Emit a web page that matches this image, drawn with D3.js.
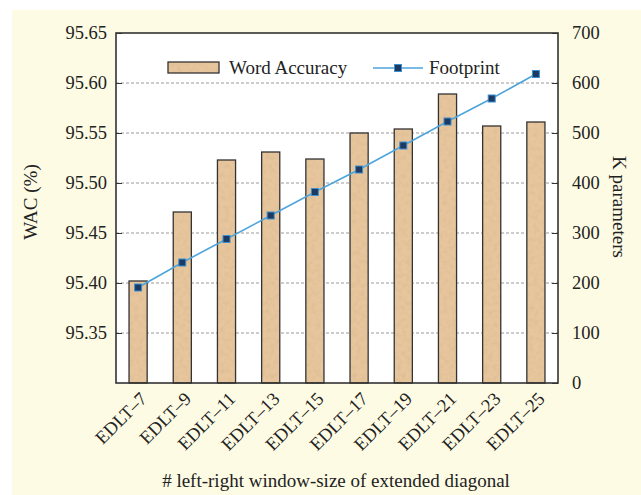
<!DOCTYPE html>
<html>
<head>
<meta charset="utf-8">
<title>EDLT window size</title>
<script src="https://d3js.org/d3.v7.min.js"></script>
<style>
  body { margin: 0; background: #fff; }
  text { font-family: "Liberation Serif", "Times New Roman", serif; fill: #222; }
</style>
</head>
<body>
<div id="chart"></div>
<script>
// data
var categories = ["EDLT\u20137", "EDLT\u20139", "EDLT\u201311", "EDLT\u201313", "EDLT\u201315",
                  "EDLT\u201317", "EDLT\u201319", "EDLT\u201321", "EDLT\u201323", "EDLT\u201325"];
var wordAccuracy = [95.402, 95.471, 95.523, 95.531, 95.524, 95.550, 95.554, 95.589, 95.557, 95.561];
var footprint = [191, 241, 288, 335, 382, 427, 475, 523, 569, 618];
var leftTicks = [95.35, 95.40, 95.45, 95.50, 95.55, 95.60, 95.65];
var rightTicks = [0, 100, 200, 300, 400, 500, 600, 700];

var W = 641, H = 495;
var margin = { top: 33, right: 83, bottom: 112, left: 116 };
var width = W - margin.left - margin.right,
    height = H - margin.top - margin.bottom;
var barFill = "#e7c69d";

var svg = d3.select("#chart").append("svg")
    .attr("width", W).attr("height", H);

// grainy texture for the bars
var f = svg.append("defs").append("filter").attr("id", "grain")
    .attr("x", 0).attr("y", 0).attr("width", 1).attr("height", 1);
f.append("feTurbulence").attr("type", "fractalNoise").attr("baseFrequency", 0.22)
    .attr("numOctaves", 2).attr("seed", 3).attr("result", "noise");
f.append("feColorMatrix").attr("in", "noise").attr("type", "matrix")
    .attr("values", "0 0 0 0 0.55  0 0 0 0 0.38  0 0 0 0 0.2  0 0 0 0.55 -0.22")
    .attr("result", "tint");
f.append("feComposite").attr("in", "tint").attr("in2", "SourceGraphic").attr("operator", "in").attr("result", "spots");
var fm = f.append("feMerge");
fm.append("feMergeNode").attr("in", "SourceGraphic");
fm.append("feMergeNode").attr("in", "spots");

// cream page background
svg.append("rect").attr("x", 12).attr("y", 10).attr("width", W - 12).attr("height", H - 10)
    .attr("fill", "#fdfbe4");

var g = svg.append("g").attr("transform", "translate(" + margin.left + "," + margin.top + ")");

g.append("rect").attr("width", width).attr("height", height).attr("fill", "#fff");

var x = d3.scaleBand().domain(categories).range([0, width]).paddingInner(0.59).paddingOuter(0.295);
var y = d3.scaleLinear().domain([95.30, 95.65]).range([height, 0]);
var y2 = d3.scaleLinear().domain([0, 700]).range([height, 0]);

// grid lines
g.selectAll(".grid").data(leftTicks.slice(0, -1)).enter().append("line")
    .attr("x1", 0).attr("x2", width)
    .attr("y1", function (d) { return y(d); }).attr("y2", function (d) { return y(d); })
    .attr("stroke", "#9a9a9a").attr("stroke-width", 1).attr("stroke-dasharray", "3,2");

// bars: textured fill, then outline
g.selectAll(".barfill").data(wordAccuracy).enter().append("rect")
    .attr("x", function (d, i) { return x(categories[i]); })
    .attr("y", function (d) { return y(d); })
    .attr("width", x.bandwidth())
    .attr("height", function (d) { return height - y(d); })
    .attr("fill", barFill).attr("filter", "url(#grain)");
g.selectAll(".bar").data(wordAccuracy).enter().append("rect")
    .attr("x", function (d, i) { return x(categories[i]); })
    .attr("y", function (d) { return y(d); })
    .attr("width", x.bandwidth())
    .attr("height", function (d) { return height - y(d); })
    .attr("fill", "none").attr("stroke", "#333").attr("stroke-width", 1.3);

// footprint line
var cx = function (d, i) { return x(categories[i]) + x.bandwidth() / 2; };
g.append("path").datum(footprint)
    .attr("fill", "none").attr("stroke", "#4ea5dc").attr("stroke-width", 1.6)
    .attr("d", d3.line().x(cx).y(function (d) { return y2(d); }));
g.selectAll(".mk").data(footprint).enter().append("rect")
    .attr("x", function (d, i) { return cx(d, i) - 3.5; })
    .attr("y", function (d) { return y2(d) - 3.5; })
    .attr("width", 7).attr("height", 7)
    .attr("fill", "#1d3a63").attr("stroke", "#3d8fd0").attr("stroke-width", 1);

// axes
var yAxis = g.append("g").call(d3.axisLeft(y).tickValues(leftTicks).tickSize(-6).tickPadding(9)
    .tickFormat(d3.format(".2f")));
var yAxis2 = g.append("g").attr("transform", "translate(" + width + ",0)")
    .call(d3.axisRight(y2).tickValues(rightTicks).tickSize(-6).tickPadding(14));
var xAxis = g.append("g").attr("transform", "translate(0," + height + ")")
    .call(d3.axisBottom(x).tickSize(0).tickPadding(0));
[yAxis, yAxis2, xAxis].forEach(function (a) {
  a.select(".domain").remove();
  a.selectAll("line").attr("stroke", "#333");
  a.selectAll("text").style("font-family", "Liberation Serif, serif").style("font-size", "18.5px").attr("fill", "#222");
});
xAxis.selectAll("text")
    .attr("text-anchor", "end")
    .attr("dy", "0")
    .attr("transform", "translate(10,17) rotate(-45)");

// plot frame
g.append("rect").attr("width", width).attr("height", height)
    .attr("fill", "none").attr("stroke", "#333").attr("stroke-width", 1.6);

// axis titles
svg.append("text").attr("transform", "translate(37,202) rotate(-90)")
    .attr("text-anchor", "middle").style("font-size", "19px").text("WAC (%)");
svg.append("text").attr("transform", "translate(613,207) rotate(90)")
    .attr("text-anchor", "middle").style("font-size", "19px").text("K parameters");
svg.append("text").attr("x", 336).attr("y", 487)
    .attr("text-anchor", "middle").style("font-size", "19px")
    .text("# left-right window-size of extended diagonal");

// legend
var lg = svg.append("g");
lg.append("rect").attr("x", 168).attr("y", 62).attr("width", 51).attr("height", 11)
    .attr("fill", barFill).attr("filter", "url(#grain)");
lg.append("rect").attr("x", 168).attr("y", 62).attr("width", 51).attr("height", 11)
    .attr("fill", "none").attr("stroke", "#333").attr("stroke-width", 1.3);
lg.append("text").attr("x", 229).attr("y", 74).style("font-size", "19px").text("Word Accuracy");
lg.append("line").attr("x1", 373).attr("x2", 423).attr("y1", 68).attr("y2", 68)
    .attr("stroke", "#4ea5dc").attr("stroke-width", 1.6);
lg.append("rect").attr("x", 394.5).attr("y", 64.5).attr("width", 7).attr("height", 7)
    .attr("fill", "#1d3a63").attr("stroke", "#3d8fd0");
lg.append("text").attr("x", 429).attr("y", 74).style("font-size", "19px").text("Footprint");
</script>
</body>
</html>
